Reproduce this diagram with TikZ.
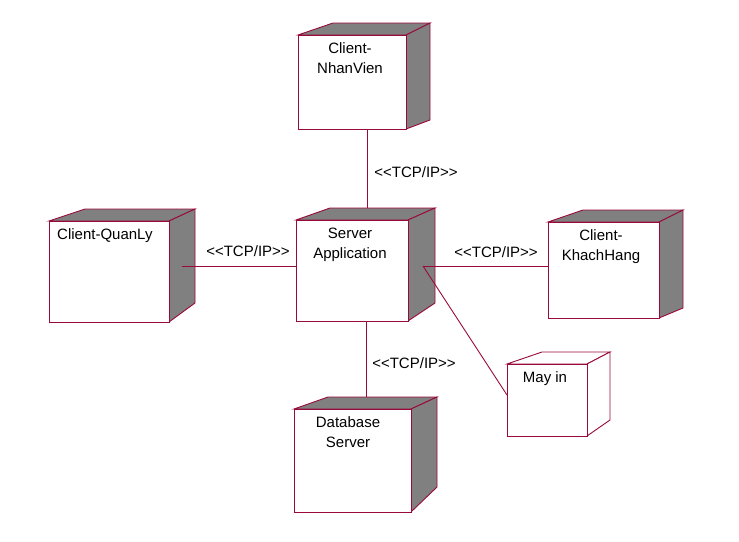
\documentclass[tikz,border=0pt]{standalone}
\usepackage{fontspec}
\setmainfont{Liberation Sans}
\usetikzlibrary{fit}
\definecolor{edge}{RGB}{153,10,60}
\definecolor{shade}{RGB}{128,128,128}
\tikzset{
  face/.style={draw=edge, line width=0.9pt, fill=white, inner sep=0pt},
  solid3d/.style={draw=edge, line width=0.9pt, fill=#1},
  conn/.style={draw=edge, line width=0.9pt},
  ntext/.style={inner sep=0pt, align=center, font=\fontsize{15}{20}\selectfont},
  tcp/.style={inner sep=0pt, font=\fontsize{15}{18}\selectfont, anchor=base}
}
% name, fill, front TL x, y, front BR x, y, back TL x, back right x, back bottom y
\newcommand\deploynode[9]{%
  \filldraw[solid3d=#2, line join=miter] (#3,#4) -- (#7,{#4-12}) -- (#8,{#4-12}) -- (#5,#4) -- cycle;
  \filldraw[solid3d=#2, line join=miter] (#5,#4) -- (#8,{#4-12}) -- (#8,#9) -- (#5,#6) -- cycle;
  \node[face, fit={(#3,#4) (#5,#6)}] (#1) {};
  \draw[edge, line width=1.8pt] (#1.north east) -- (#1.south east);
}
\begin{document}
\begin{tikzpicture}[x=1pt,y=-1pt]
\useasboundingbox (0,0) rectangle (739,541);
\coordinate (nvB) at (367,129);
\coordinate (srvT) at (367,208);
\coordinate (qlR) at (182,266);
\coordinate (srvL) at (296,266);
\coordinate (srvR) at (423,266);
\coordinate (khL) at (548,266);
\coordinate (srvB) at (366,321);
\coordinate (dbT) at (366,397);
\coordinate (mpL) at (507,395);

\deploynode{nv}{shade}{298}{35}{406}{129}{333}{430}{120}
\deploynode{ql}{shade}{49}{221}{169}{322}{85}{195}{303}
\deploynode{srv}{shade}{296}{220}{408}{321}{330}{435}{303}
\deploynode{kh}{shade}{548}{222}{659}{318}{583}{683}{308}
\deploynode{mp}{white}{507}{364}{587}{436}{542}{610}{420}
\deploynode{db}{shade}{294}{409}{411}{512}{328}{437}{487}

\draw[conn] (nvB) -- (srvT);
\draw[conn] (qlR) -- (srvL);
\draw[conn] (srvR) -- (khL);
\draw[conn] (srvB) -- (dbT);
\draw[conn] (srvR) -- (mpL);

\node[ntext, anchor=north] (nvt) at (350,42) {Client-\\NhanVien};
\node[ntext, anchor=base west] (qlt) at (57,239) {Client-QuanLy};
\node[ntext, anchor=north] (srvt) at (350,228) {Server\\Application};
\node[ntext, anchor=north] (kht) at (601,229) {Client-\\KhachHang};
\node[ntext, anchor=base] (mpt) at (545,382) {May in};
\node[ntext, anchor=north] (dbt) at (348,416) {Database\\Server};

\node[tcp] (l1) at (416,177) {<{}<TCP/IP>{}>};
\node[tcp] (l2) at (248,256) {<{}<TCP/IP>{}>};
\node[tcp] (l3) at (496,257) {<{}<TCP/IP>{}>};
\node[tcp] (l4) at (414,368) {<{}<TCP/IP>{}>};
\end{tikzpicture}
\end{document}
